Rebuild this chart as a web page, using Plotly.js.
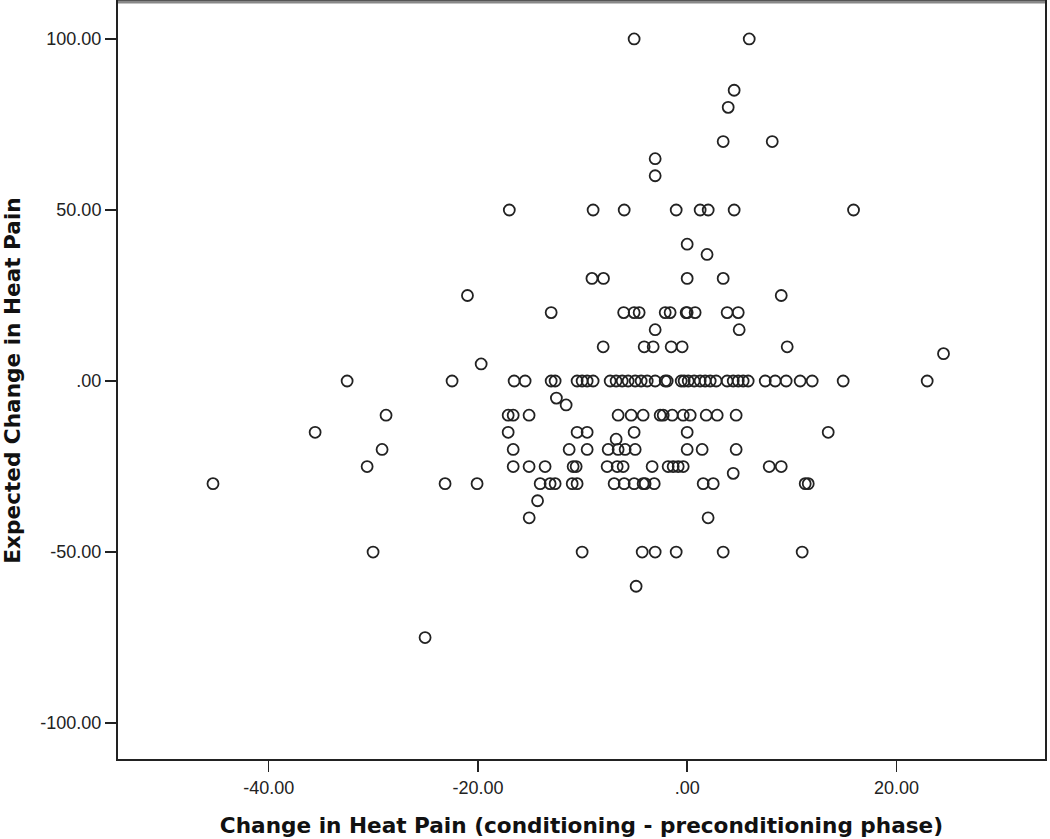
<!DOCTYPE html>
<html>
<head>
<meta charset="utf-8">
<script src="https://cdn.plot.ly/plotly-3.0.1.min.js"></script>
<style>
  body { margin: 0; background: #fff; }
  #scatterPlot { width: 1050px; height: 839px; }
</style>
</head>
<body>
<div id="scatterPlot"></div>
<script>
// change in heat pain (x), one line per level of expected change
var heatPainChange = [
  -5.07, 5.93,
  4.49,
  3.92,
  3.44, 8.13,
  -3.06,
  -3.06,
  -17.0, -8.99, -6.02, -1.05, 1.24, 2.01, 4.49, 15.9,
  0.0,
  1.9,
  -9.1, -8.0, 0.0, 3.44,
  -21.0, 8.99,
  -13.0, -6.07, -5.07, -4.59, -2.1, -1.63, -0.1, 0.0, 0.76, 3.82, 4.88,
  -3.06, 4.97,
  -8.03, -4.11, -3.25, -1.53, -0.48, 9.56,
  24.5,
  -19.69,
  -32.5, -22.47, -16.54, -15.49, -13.0, -12.62, -10.52, -10.04, -9.56, -8.99,
  -7.36, -6.79, -6.21, -5.64, -4.97, -4.40, -3.82, -3.06, -2.10, -1.91,
  -0.57, -0.29, 0.10, 0.67, 1.24, 1.72, 2.20, 2.77, 3.82, 4.40,
  4.88, 5.35, 5.83, 7.46, 8.41, 9.46, 10.80, 11.95, 14.91, 22.94,
  -12.5,
  -11.57,
  -28.78, -17.11, -16.63, -15.11, -6.60, -5.35, -4.21, -2.58, -2.29, -1.43, -0.38, 0.29, 1.82, 2.87, 4.68,
  -35.56, -17.11, -10.52, -9.56, -5.07, 0.0, 13.48,
  -6.79,
  -29.16, -16.63, -11.28, -9.56, -7.55, -6.60, -5.93, -4.97, 0.0, 1.43, 4.68,
  -30.59, -16.63, -15.11, -13.58, -10.90, -10.61, -7.65, -6.69, -6.12, -3.35, -1.82, -1.34, -0.86, -0.38, 7.84, 8.99,
  4.4,
  -45.32, -23.14, -20.08, -14.05, -13.10, -12.62, -10.99, -10.52, -6.98, -6.02, -5.07, -4.21, -4.02, -3.15, 1.53, 2.49, 11.28, 11.57,
  -14.3,
  -15.1, 2.0,
  -30.02, -10.04, -4.30, -3.06, -1.05, 3.44, 10.99,
  -4.88,
  -25.05
];

// expected change in heat pain (y), same order as above
var expectedChange = [
  100, 100,
  85,
  80,
  70, 70,
  65,
  60,
  50, 50, 50, 50, 50, 50, 50, 50,
  40,
  37,
  30, 30, 30, 30,
  25, 25,
  20, 20, 20, 20, 20, 20, 20, 20, 20, 20, 20,
  15, 15,
  10, 10, 10, 10, 10, 10,
  8,
  5,
  0, 0, 0, 0, 0, 0, 0, 0, 0, 0,
  0, 0, 0, 0, 0, 0, 0, 0, 0, 0,
  0, 0, 0, 0, 0, 0, 0, 0, 0, 0,
  0, 0, 0, 0, 0, 0, 0, 0, 0, 0,
  -5,
  -7,
  -10, -10, -10, -10, -10, -10, -10, -10, -10, -10, -10, -10, -10, -10, -10,
  -15, -15, -15, -15, -15, -15, -15,
  -17,
  -20, -20, -20, -20, -20, -20, -20, -20, -20, -20, -20,
  -25, -25, -25, -25, -25, -25, -25, -25, -25, -25, -25, -25, -25, -25, -25, -25,
  -27,
  -30, -30, -30, -30, -30, -30, -30, -30, -30, -30, -30, -30, -30, -30, -30, -30, -30, -30,
  -35,
  -40, -40,
  -50, -50, -50, -50, -50, -50, -50,
  -60,
  -75
];

var xTickVals = [-40, -20, 0, 20];
var xTickText = ["-40.00", "-20.00", ".00", "20.00"];
var yTickVals = [-100, -50, 0, 50, 100];
var yTickText = ["-100.00", "-50.00", ".00", "50.00", "100.00"];

var trace1 = {
  x: heatPainChange,
  y: expectedChange,
  type: "scatter",
  mode: "markers",
  marker: {
    symbol: "circle-open",
    size: 11,
    color: "#222",
    line: { width: 1.8, color: "#262626" }
  },
  hoverinfo: "x+y"
};

var tickFont = { family: "Liberation Sans, Arial, sans-serif", size: 18, color: "#222" };
var titleFont = { family: "DejaVu Sans, Verdana, sans-serif", size: 21.6, color: "#111", weight: "bold" };

var layout = {
  width: 1050,
  height: 839,
  margin: { l: 118, r: 5, t: 2, b: 80 },
  paper_bgcolor: "#fff",
  plot_bgcolor: "#fff",
  showlegend: false,
  xaxis: {
    range: [-54.4, 34.2],
    tickvals: xTickVals,
    ticktext: xTickText,
    ticks: "outside",
    ticklen: 11,
    tickwidth: 1.5,
    tickcolor: "#222",
    tickfont: tickFont,
    showgrid: false,
    zeroline: false,
    showline: true,
    mirror: true,
    linecolor: "#222",
    linewidth: 2,
    title: { text: "Change in Heat Pain (conditioning - preconditioning phase)", font: titleFont, standoff: 21 }
  },
  yaxis: {
    range: [-110.5, 110.8],
    tickvals: yTickVals,
    ticktext: yTickText,
    ticks: "outside",
    ticklen: 11,
    tickwidth: 1.5,
    tickcolor: "#222",
    tickfont: tickFont,
    showgrid: false,
    zeroline: false,
    showline: true,
    mirror: true,
    linecolor: "#222",
    linewidth: 2,
    title: { text: "Expected Change in Heat Pain", font: titleFont, standoff: 14 }
  },
  shapes: [
    { type: "line", xref: "paper", yref: "paper", x0: 0, x1: 1, y0: 1, y1: 1,
      line: { color: "#888", width: 3 } }
  ]
};

Plotly.newPlot("scatterPlot", [trace1], layout, { displayModeBar: false, staticPlot: true });
</script>
</body>
</html>
